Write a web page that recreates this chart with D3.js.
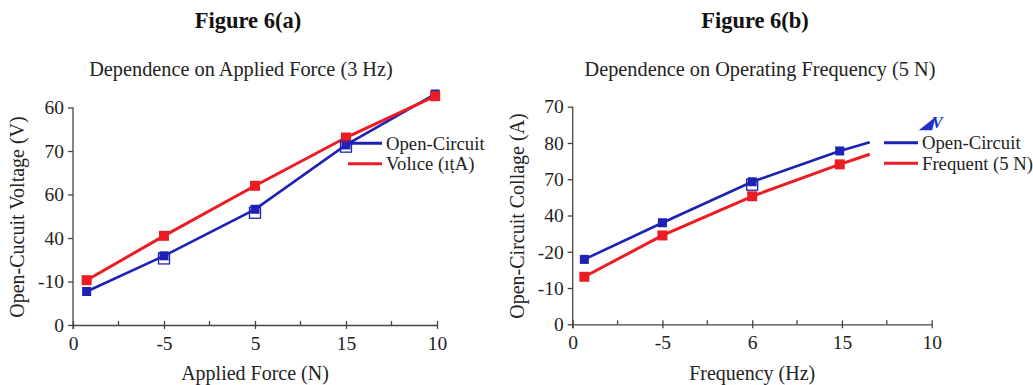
<!DOCTYPE html>
<html lang="en">
<head>
<meta charset="utf-8">
<title>Figure 6</title>
<script src="https://d3js.org/d3.v7.min.js"></script>
<style>
  body { margin: 0; background: #fff; }
  svg { display: block; }
  svg text { font-family: "Liberation Serif", "Times New Roman", serif; }
</style>
</head>
<body>
<script>
// tick labels as printed in the figure (positions are evenly spaced slots)
const xTickLabelsA = ["0", "-5", "5", "15", "10"];
const yTickLabelsA = ["0", "-10", "40", "60", "70", "60"];
const xTickLabelsB = ["0", "-5", "6", "15", "10"];
const yTickLabelsB = ["0", "-10", "-20", "40", "70", "80", "70"];

// values in tick-slot units (x: 0..8 with labels every 2, y: one unit per tick)
const forceX = [0.3, 2, 4, 6, 7.96];
const forceRed = [1.03, 2.05, 3.2, 4.31, 5.26];
const forceBlue = [0.77, 1.59, 2.66, 4.14, 5.31];
const forceBlueOpen = [[2, 1.53], [4, 2.58], [6, 4.1]];

const freqX = [0.26, 2, 4, 5.95, 6.62];
const freqBlue = [1.79, 2.8, 3.93, 4.78, 5.02];
const freqRed = [1.31, 2.45, 3.53, 4.41, 4.69];
const freqBlueOpen = [[4, 3.85]];

const BLUE = "#1d22b4";
const RED = "#ec1c24";

const svg = d3.select("body").append("svg")
  .attr("width", 1033)
  .attr("height", 385);

function drawPanel(cfg) {
  const x = d3.scaleLinear().domain([0, 8]).range([cfg.x0, cfg.x1]);
  const y = d3.scaleLinear().domain([0, cfg.yLabels.length - 1]).range([cfg.y0, cfg.y1]);
  const g = svg.append("g");

  // titles
  g.append("text")
    .attr("x", cfg.titleX).attr("y", 28)
    .attr("text-anchor", "middle")
    .style("font-size", "22.5px").style("font-weight", "bold")
    .attr("fill", "#111")
    .text(cfg.title);
  g.append("text")
    .attr("x", cfg.subX).attr("y", 76)
    .attr("text-anchor", "middle")
    .style("font-size", "20.3px")
    .attr("fill", "#222")
    .text(cfg.subtitle);

  // y axis
  const yAxis = g.append("g")
    .attr("transform", `translate(${cfg.x0},0)`)
    .call(d3.axisLeft(y)
      .tickValues(d3.range(cfg.yLabels.length))
      .tickFormat(i => cfg.yLabels[i])
      .tickSize(5).tickSizeOuter(0).tickPadding(4));
  yAxis.select(".domain").attr("d", `M0,${cfg.y0 + 4}V${cfg.y1}`);

  // x axis: major ticks cross the axis, minor ticks point up
  const xAxis = g.append("g")
    .attr("transform", `translate(0,${cfg.y0})`)
    .call(d3.axisBottom(x)
      .tickValues([0, 2, 4, 6, 8])
      .tickFormat((d, i) => cfg.xLabels[i])
      .tickSize(4).tickSizeOuter(0).tickPadding(7));
  xAxis.selectAll(".tick line").attr("y1", -4);
  xAxis.selectAll(".minor")
    .data([1, 3, 5, 7])
    .join("line")
    .attr("class", "minor")
    .attr("x1", d => x(d)).attr("x2", d => x(d))
    .attr("y1", 0).attr("y2", -4)
    .attr("stroke", "currentColor");

  g.selectAll(".domain, .tick line, .minor").attr("stroke", "#444").attr("stroke-width", 1.3);
  g.selectAll(".tick text").style("font-size", "19.5px").attr("fill", "#222");

  // axis labels
  g.append("text")
    .attr("x", (cfg.x0 + cfg.x1) / 2).attr("y", 380)
    .attr("text-anchor", "middle")
    .style("font-size", "20px").attr("fill", "#222")
    .text(cfg.xTitle);
  g.append("text")
    .attr("transform", `translate(${cfg.yTitleX},${cfg.yTitleY}) rotate(-90)`)
    .attr("text-anchor", "middle")
    .style("font-size", "20px").attr("fill", "#222")
    .text(cfg.yTitle);

  const line = d3.line().x(d => x(d[0])).y(d => y(d[1]));

  cfg.series.forEach(s => {
    const pts = cfg.xs.map((xv, i) => [xv, s.values[i]]);
    g.append("path")
      .datum(pts)
      .attr("fill", "none")
      .attr("stroke", s.color)
      .attr("stroke-width", s.width)
      .attr("d", line);
  });

  cfg.series.forEach(s => {
    const pts = cfg.xs.slice(0, s.markers).map((xv, i) => [xv, s.values[i]]);
    g.selectAll(null)
      .data(pts)
      .join("rect")
      .attr("x", d => x(d[0]) - s.size / 2)
      .attr("y", d => y(d[1]) - s.size / 2)
      .attr("width", s.size).attr("height", s.size)
      .attr("fill", s.color);
  });

  g.selectAll(null)
    .data(cfg.open)
    .join("rect")
    .attr("x", d => x(d[0]) - 5.5)
    .attr("y", d => y(d[1]) - 5.5)
    .attr("width", 11).attr("height", 11)
    .attr("fill", "none")
    .attr("stroke", BLUE)
    .attr("stroke-width", 1.3);

  // legend
  cfg.legend.forEach((l, i) => {
    const ly = cfg.legY + i * 20.5;
    g.append("line")
      .attr("x1", cfg.legX).attr("x2", cfg.legX + 34)
      .attr("y1", ly).attr("y2", ly)
      .attr("stroke", l.color).attr("stroke-width", 3);
    g.append("text")
      .attr("x", cfg.legX + 38).attr("y", ly + 6.5)
      .style("font-size", "18.7px").attr("fill", "#222")
      .text(l.label);
  });
  return g;
}

drawPanel({
  x0: 73, x1: 437, y0: 325, y1: 107.5,
  title: "Figure 6(a)", titleX: 248,
  subtitle: "Dependence on Applied Force (3 Hz)", subX: 241,
  xLabels: xTickLabelsA, yLabels: yTickLabelsA,
  xTitle: "Applied Force (N)", yTitle: "Open-Cucuit Voltage (V)",
  yTitleX: 24, yTitleY: 217,
  xs: forceX,
  series: [
    { values: forceBlue, color: BLUE, width: 2.6, size: 9, markers: 5 },
    { values: forceRed, color: RED, width: 3, size: 10, markers: 5 }
  ],
  open: forceBlueOpen,
  legend: [
    { label: "Open-Circuit", color: BLUE },
    { label: "Volıce (ıṭA)", color: RED }
  ],
  legX: 348, legY: 143.3
});

const gb = drawPanel({
  x0: 572.7, x1: 931.7, y0: 324.3, y1: 106.7,
  title: "Figure 6(b)", titleX: 755,
  subtitle: "Dependence on Operating Frequency (5 N)", subX: 760,
  xLabels: xTickLabelsB, yLabels: yTickLabelsB,
  xTitle: "Frequency (Hz)", yTitle: "Open-Circuit Collage (A)",
  yTitleX: 524, yTitleY: 216,
  xs: freqX,
  series: [
    { values: freqBlue, color: BLUE, width: 2.6, size: 9, markers: 4 },
    { values: freqRed, color: RED, width: 3, size: 10, markers: 4 }
  ],
  open: freqBlueOpen,
  legend: [
    { label: "Open-Circuit", color: BLUE },
    { label: "Frequent (5 N)", color: RED }
  ],
  legX: 884, legY: 142.7
});

// stray blue glyph above the right legend
gb.append("text")
  .attr("x", 920).attr("y", 128)
  .style("font-size", "16px").style("font-style", "italic").style("font-weight", "bold")
  .attr("fill", "#2030c8")
  .text("◢V");
</script>
</body>
</html>
